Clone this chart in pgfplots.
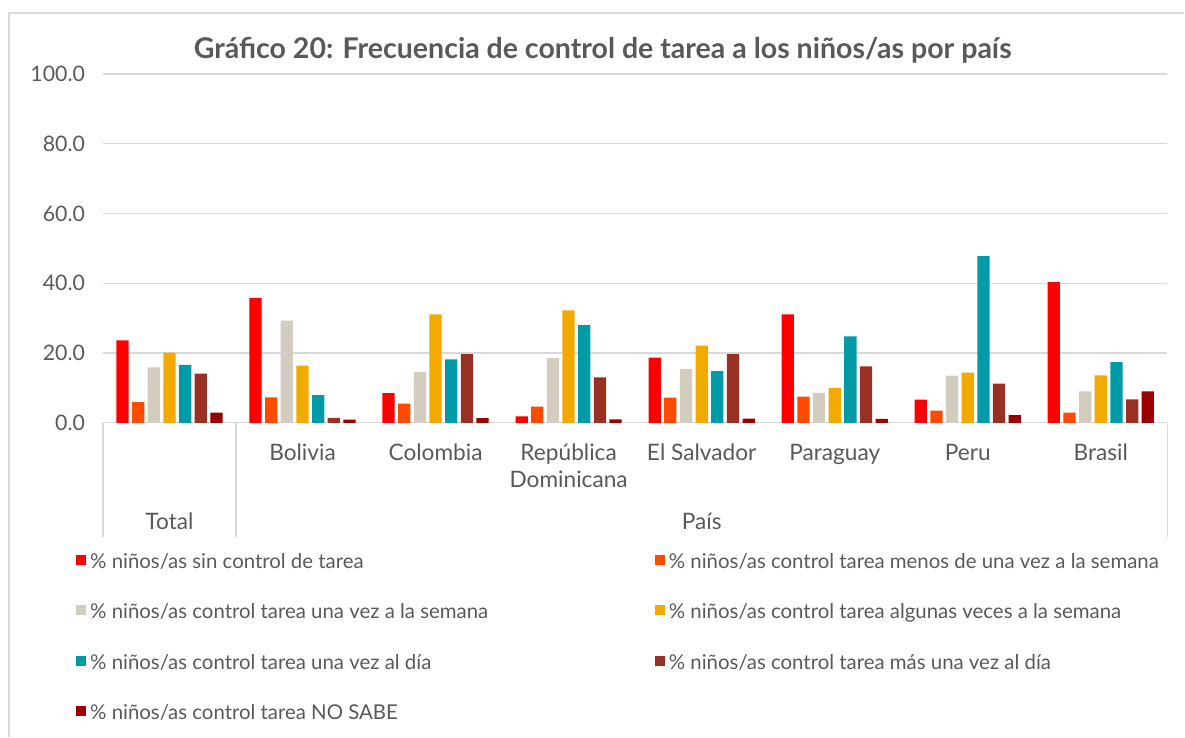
\documentclass[border=0pt]{standalone}
\usepackage{pgfplots}
\usepackage{pgfplotstable}
\pgfplotsset{compat=1.18}
\usepackage{fontspec}
\setmainfont{Lato}
\definecolor{c1}{HTML}{FF0000}
\definecolor{c2}{HTML}{FF4B00}
\definecolor{c3}{HTML}{D3CDBF}
\definecolor{c4}{HTML}{F2AA00}
\definecolor{c5}{HTML}{009BA6}
\definecolor{c6}{HTML}{993024}
\definecolor{c7}{HTML}{9B0000}
\definecolor{tg}{HTML}{595959}
\definecolor{gl}{HTML}{D9D9D9}
\pgfplotstableread{
x s1 s2 s3 s4 s5 s6 s7
0 23.6 5.9 15.9 20.1 16.6 14.1 2.9
1 35.8 7.3 29.3 16.4 7.9 1.4 0.9
2 8.5 5.5 14.6 31.1 18.2 19.7 1.3
3 1.8 4.6 18.6 32.2 28.0 13.0 1.0
4 18.7 7.2 15.4 22.1 14.8 19.7 1.2
5 31.1 7.5 8.6 10.0 24.8 16.2 1.1
6 6.6 3.5 13.5 14.4 47.8 11.2 2.2
7 40.3 2.9 9.0 13.6 17.4 6.7 9.0
}\data
\newcommand{\fw}[1]{\makebox[420.75pt][l]{#1}}
\begin{document}
\begin{tikzpicture}
\path (0pt,0pt) rectangle (888.75pt,-552.75pt);
\draw[gl, line width=1pt] (6.75pt,-552.75pt) -- (6.75pt,-9.75pt) -- (888.75pt,-9.75pt);
\node[font=\fontsize{21.4}{25}\selectfont\bfseries, text=tg] at (452.25pt,-37.5pt) {Gráfico 20: Frecuencia de control de tarea a los niños/as por país};
\begin{axis}[
  at={(77.25pt,-317.25pt)}, anchor=south west,
  scale only axis, width=798.75pt, height=261.75pt,
  ybar=2.55pt, bar width=9.2pt,
  xmin=-0.5, xmax=7.5, ymin=0, ymax=100,
  xtick={0,...,7},
  xticklabels={{},Bolivia,Colombia,{República\\Dominicana},El Salvador,Paraguay,Peru,Brasil},
  ytick={0,20,...,100},
  ymajorgrids, grid style={gl, line width=1pt},
  axis lines*=left,
  y axis line style={draw=none},
  x axis line style={gl, line width=1pt},
  major tick length=0pt,
  tick style={draw=none},
  xticklabel style={font=\fontsize{17}{20}\selectfont, text=tg, align=center, anchor=north, yshift=-12.5pt},
  yticklabel style={font=\fontsize{16}{19}\selectfont, text=tg, xshift=-10pt,
    /pgf/number format/.cd, fixed, fixed zerofill, precision=1, assume math mode=true},
  clip=false,
  legend columns=2,
  legend cell align=left,
  legend style={at={(-0.02535,-0.3782)}, anchor=north west, draw=none, fill=none, inner sep=0pt,
    font=\fontsize{15.3}{18}\selectfont, text=tg,
    column sep=3pt, row sep=24.5pt,
    nodes={inner xsep=0pt, inner ysep=0pt, text height=10pt, text depth=3pt}},
  legend image code/.code={\fill[#1] (0pt,-0.75pt) rectangle (7.5pt,6.75pt);},
]
\addplot[fill=c1, draw=none] table[x=x, y=s1] {\data};
\addplot[fill=c2, draw=none] table[x=x, y=s2] {\data};
\addplot[fill=c3, draw=none] table[x=x, y=s3] {\data};
\addplot[fill=c4, draw=none] table[x=x, y=s4] {\data};
\addplot[fill=c5, draw=none] table[x=x, y=s5] {\data};
\addplot[fill=c6, draw=none] table[x=x, y=s6] {\data};
\addplot[fill=c7, draw=none] table[x=x, y=s7] {\data};
\addlegendentry{\fw{\% niños/as sin control de tarea}}
\addlegendentry{\% niños/as control tarea menos de una vez a la semana}
\addlegendentry{\fw{\% niños/as control tarea una vez a la semana}}
\addlegendentry{\% niños/as control tarea algunas veces a la semana}
\addlegendentry{\fw{\% niños/as control tarea una vez al día}}
\addlegendentry{\% niños/as control tarea más una vez al día}
\addlegendentry{\fw{\% niños/as control tarea NO SABE}}
\draw[gl, line width=1pt] (axis cs:-0.5,0) -- ([yshift=-85.5pt]axis cs:-0.5,0);
\draw[gl, line width=1pt] (axis cs:0.5,0) -- ([yshift=-85.5pt]axis cs:0.5,0);
\draw[gl, line width=1pt] (axis cs:7.5,0) -- ([yshift=-85.5pt]axis cs:7.5,0);
\node[text=tg, font=\fontsize{17}{20}\selectfont, yshift=-74.25pt] at (axis cs:0,0) {Total};
\node[text=tg, font=\fontsize{17}{20}\selectfont, yshift=-74.25pt] at (axis cs:4,0) {País};
\end{axis}
\end{tikzpicture}
\end{document}
